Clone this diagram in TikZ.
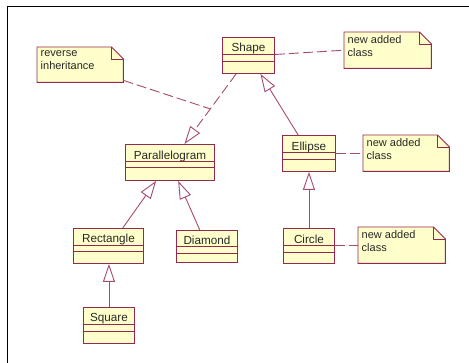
\documentclass[tikz,border=0pt]{standalone}
\usepackage{fontspec}
\setmainfont{Liberation Sans}
\usetikzlibrary{arrows.meta,calc}
\definecolor{umlfill}{RGB}{255,255,204}
\definecolor{umlborder}{RGB}{150,40,80}
\definecolor{umlline}{RGB}{165,75,115}
\definecolor{umltext}{RGB}{40,40,40}
\tikzset{
  classbox/.style={draw=umlborder, fill=umlfill, line width=0.9pt, inner sep=0pt, anchor=north west},
  classtext/.style={font=\fontsize{11.7}{14}\selectfont, text=umltext, inner sep=0pt, anchor=base},
  notebox/.style={inner sep=0pt, anchor=north west},
  notetext/.style={font=\fontsize{11}{13}\selectfont, text=umltext, inner sep=0pt, anchor=north west, align=left},
  sepline/.style={draw=umlborder, line width=0.9pt},
  inherit/.style={draw=umlline, line width=0.9pt, -{Triangle[open, length=18pt, width=12pt, fill=white]}},
  realize/.style={inherit, dash pattern=on 10pt off 4pt},
  noteline/.style={draw=umlline, line width=0.9pt, dash pattern=on 10pt off 4pt},
}
\newcommand{\umlclass}[8]{%
  % name, x, y, w, h, sep1 offset, sep2 offset, text
  \node[classbox, minimum width=#4pt, minimum height=#5pt] (#1) at (#2,#3) {};
  \draw[sepline] ($(#1.north west)+(0,#6)$) -- ($(#1.north east)+(0,#6)$);
  \draw[sepline] ($(#1.north west)+(0,#7)$) -- ($(#1.north east)+(0,#7)$);
  \node[classtext] (#1T) at ($(#1.north)+(0,#6-2.6)$) {#8};
}
\newcommand{\umlnote}[6]{%
  % name, x, y, w, h, text
  \node[notebox, minimum width=#4pt, minimum height=#5pt] (#1) at (#2,#3) {};
  \draw[draw=umlborder, fill=umlfill, line width=0.9pt, line join=miter]
    (#1.north west) -- ($(#1.north east)+(-12,0)$) -- ($(#1.north east)+(0,12)$)
    -- (#1.south east) -- (#1.south west) -- cycle;
  \draw[draw=umlborder, line width=0.9pt]
    ($(#1.north east)+(-12,0)$) -- ($(#1.north east)+(-12,12)$) -- ($(#1.north east)+(0,12)$);
  \node[notetext] (#1T) at ($(#1.north west)+(3.5,3.8)$) {#6};
}
\begin{document}
\begin{tikzpicture}[x=1pt, y=-1pt]
\useasboundingbox (0,0) rectangle (469,363);
\fill[white] (0,0) rectangle (469,363);
\draw[black, line width=1.2pt] (7.3,363) -- (7.3,6.8) -- (469,6.8);

% classes
\umlclass{shape}{222}{37}{52}{36}{17.3}{24.3}{Shape}
\umlclass{para}{125}{144}{89}{36}{17.7}{23.7}{Parallelogram}
\umlclass{ellipse}{282}{135}{53}{36}{17.7}{24.3}{Ellipse}
\umlclass{rect}{73}{228}{70}{35}{17.3}{23.7}{Rectangle}
\umlclass{diamond}{176}{230}{61}{32}{16.7}{23.3}{Diamond}
\umlclass{circle}{283}{228}{51}{35}{17.7}{24}{Circle}
\umlclass{square}{83}{307}{51}{36}{17.3}{24}{Square}

% notes
\umlnote{noteRev}{37}{47}{86}{35}{reverse\\inheritance}
\umlnote{noteShape}{344}{32}{87}{36}{new added\\class}
\umlnote{noteEll}{363}{135}{86}{36}{new added\\class}
\umlnote{noteCirc}{358}{227}{87}{36}{new added\\class}

% connectors
\coordinate (rs) at ($(shape.south)+(-12.3,0)$);
\coordinate (rp) at ($(para.north)+(14.5,0)$);
\draw[realize] (rs) -- (rp);
\coordinate (rmid) at ($(rs)!0.5!(rp)$);
\draw[noteline] ($(noteRev.south east)+(0,-2)$) -- (rmid);

\draw[inherit] ($(ellipse.north)+(-10.8,0)$) -- ($(shape.south)+(12,0)$);
\draw[inherit] ($(rect.north)+(14.3,0)$) -- ($(para.south)+(-13.8,0)$);
\draw[inherit] ($(diamond.north)+(-7.2,0)$) -- ($(para.south)+(8.2,0)$);
\draw[inherit] (square.north) -- (square.north |- rect.south);
\draw[inherit] (circle.north) -- (circle.north |- ellipse.south);

\draw[noteline] ($(shape.north east)+(0,17.5)$) -- (noteShape.west);
\draw[noteline] (ellipse.east) -- (ellipse.east -| noteEll.west);
\draw[noteline] (circle.east) -- (circle.east -| noteCirc.west);
\end{tikzpicture}
\end{document}
